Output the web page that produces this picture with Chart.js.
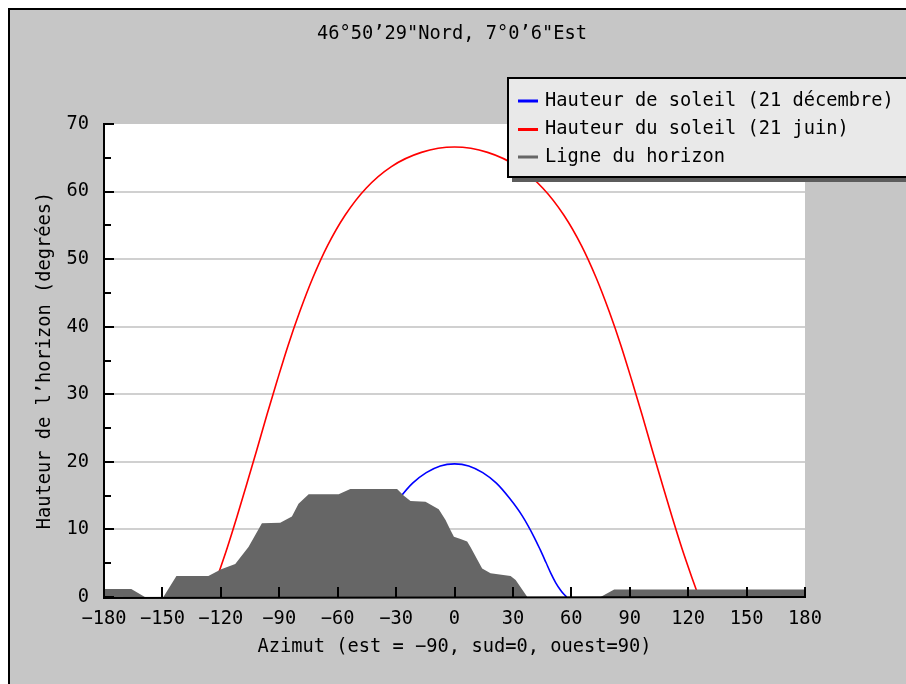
<!DOCTYPE html>
<html><head><meta charset="utf-8">
<script src="https://cdn.jsdelivr.net/npm/chart.js@4/dist/chart.umd.min.js"></script>
<style>html,body{margin:0;padding:0;background:#fff;}canvas{display:block;}</style>
</head><body>
<canvas id="c" width="906" height="684"></canvas>
<script>
const chartTitle = '46°50’29"Nord, 7°0’6"Est';
const xAxisTitle = 'Azimut (est = −90, sud=0, ouest=90)';
const yAxisTitle = 'Hauteur de l’horizon (degrées)';
const seriesNames = ['Hauteur de soleil (21 décembre)', 'Hauteur du soleil (21 juin)', 'Ligne du horizon'];
const seriesColors = ['#0000ff', '#ff0000', '#666666'];

const decAzimuth = [-57.6,-56.2,-54.5,-52,-49.5,-47,-44,-41,-34.8,-28.3,-21.5,-14.5,-7.3,0,7.3,14.5,21.5,28.3,34.8,41,44,47,49.5,52,54.5,56.2,57.6];
const decHeight  = [0,0.4,1.0,2.1,3.5,5.1,7.0,8.8,12.0,14.6,16.85,18.4,19.4,19.7,19.4,18.4,16.85,14.6,12.0,8.8,7.0,5.1,3.5,2.1,1.0,0.4,0];

const junAzimuth = [-125.5,-121.9,-116.7,-111.6,-106.5,-101.5,-96.4,-91.1,-85.5,-79.5,-72.8,-65.2,-56.2,-45.4,-32.4,-17,0,17,32.4,45.4,56.2,65.2,72.8,79.5,85.5,91.1,96.4,101.5,106.5,111.6,116.7,121.9,125.5];
const junHeight  = [0,2.9,7.3,12.0,16.9,21.8,26.9,32.0,37.2,42.2,47.2,52.0,56.5,60.5,63.7,65.8,66.6,65.8,63.7,60.5,56.5,52.0,47.2,42.2,37.2,32.0,26.9,21.8,16.9,12.0,7.3,2.9,0];

const horizonAzimuth = [-180,-166,-159,-149.5,-142.8,-126.4,-119.8,-112.6,-105.8,-98.9,-89.5,-83.5,-80.1,-74.9,-59.5,-53.5,-29.5,-26,-22.6,-14.9,-8.1,-4.6,-2.1,-0.3,3.1,6.5,8.2,14.2,18.5,28.8,31.4,37.4,75,82,180];
const horizonHeight  = [1.2,1.2,0,0,3.1,3.1,4.1,4.9,7.4,10.9,11.0,11.9,13.8,15.2,15.2,16.0,16.0,15.0,14.2,14.1,13.0,11.4,9.9,8.9,8.6,8.2,7.4,4.2,3.5,3.1,2.5,0,0,1.1,1.1];

const xTickMin = -180, xTickMax = 180, xTickStep = 30;
const yTickMin = 0, yTickMax = 70, yTickStep = 10, yMinorStep = 5;

const FONT = '"DejaVu Sans Mono", monospace';
const FS = 18.7;
const toPoints = (xs, ys) => xs.map((x, i) => ({x: x, y: ys[i]}));
const fmt = v => String(v).replace('-', '−');

const framePlugin = {
  id: 'frame',
  beforeDraw(chart) {
    const {ctx, width, height, chartArea: a} = chart;
    ctx.save();
    ctx.fillStyle = '#ffffff'; ctx.fillRect(0, 0, width, height);
    ctx.fillStyle = '#c6c6c6'; ctx.fillRect(9, 9, width - 9, height - 9);
    ctx.fillStyle = '#000000';
    ctx.fillRect(8, 8, width - 8, 2);
    ctx.fillRect(8, 8, 2, height - 8);
    ctx.fillStyle = '#ffffff';
    ctx.fillRect(a.left, a.top, a.right - a.left, a.bottom - a.top);
    ctx.restore();
  },
  afterDatasetsDraw(chart) {
    const {ctx, chartArea: a, scales} = chart;
    ctx.save();
    ctx.strokeStyle = '#000'; ctx.lineWidth = 2;
    ctx.beginPath();
    scales.x.ticks.forEach(t => {
      const px = Math.round(scales.x.getPixelForValue(t.value));
      ctx.moveTo(px, a.bottom); ctx.lineTo(px, a.bottom - 10);
    });
    scales.y.ticks.forEach(t => {
      const py = Math.round(scales.y.getPixelForValue(t.value));
      const len = (t.value % yTickStep === 0) ? 10 : 7;
      ctx.moveTo(a.left, py); ctx.lineTo(a.left + len, py);
    });
    ctx.stroke();
    ctx.beginPath();
    ctx.moveTo(a.left, a.top - 1); ctx.lineTo(a.left, a.bottom + 1); ctx.lineTo(a.right + 1, a.bottom);
    ctx.stroke();
    ctx.restore();
  },
  afterDraw(chart) {
    const {ctx} = chart;
    ctx.save();
    ctx.font = FS + 'px ' + FONT;
    ctx.fillStyle = '#000';
    ctx.textAlign = 'center'; ctx.textBaseline = 'middle';
    ctx.fillText(chartTitle, 452, 34);
    const lx = 508, ly = 78, lw = 420, lh = 99;
    ctx.fillStyle = '#5c5c5c'; ctx.fillRect(lx + 4, ly + 4, lw, lh + 1);
    ctx.fillStyle = '#e9e9e9'; ctx.fillRect(lx, ly, lw, lh);
    ctx.strokeStyle = '#000'; ctx.lineWidth = 2; ctx.strokeRect(lx, ly, lw, lh);
    const rows = [101, 129.5, 157];
    ctx.textAlign = 'left';
    seriesNames.forEach((name, i) => {
      ctx.fillStyle = seriesColors[i];
      ctx.fillRect(518, rows[i] - 1.5, 20, 3);
      ctx.fillStyle = '#000';
      ctx.fillText(name, 545, rows[i]);
    });
    ctx.restore();
  }
};

new Chart(document.getElementById('c'), {
  type: 'line',
  data: {
    datasets: [
      {label: seriesNames[0], data: toPoints(decAzimuth, decHeight), borderColor: seriesColors[0], borderWidth: 1.6, pointRadius: 0, fill: false, cubicInterpolationMode: 'monotone', order: 1},
      {label: seriesNames[1], data: toPoints(junAzimuth, junHeight), borderColor: seriesColors[1], borderWidth: 1.6, pointRadius: 0, fill: false, cubicInterpolationMode: 'monotone', order: 2},
      {label: seriesNames[2], data: toPoints(horizonAzimuth, horizonHeight), borderColor: seriesColors[2], backgroundColor: seriesColors[2], borderWidth: 0, pointRadius: 0, fill: 'origin', tension: 0, order: 0}
    ]
  },
  options: {
    responsive: false,
    animation: false,
    devicePixelRatio: 1,
    layout: {padding: {top: 124, right: 101, bottom: 0, left: 0}},
    plugins: {legend: {display: false}, title: {display: false}, tooltip: {enabled: false}},
    scales: {
      x: {
        type: 'linear', min: xTickMin, max: xTickMax,
        afterFit: s => { s.height = 87; },
        border: {display: false},
        grid: {display: false, drawTicks: false},
        ticks: {stepSize: xTickStep, autoSkip: false, maxRotation: 0, padding: 11, color: '#000', font: {family: FONT, size: FS}, callback: v => fmt(v)},
        title: {display: true, text: xAxisTitle, color: '#000', font: {family: FONT, size: FS}, padding: {top: 0, bottom: 26}}
      },
      y: {
        type: 'linear', min: yTickMin, max: yTickMax,
        afterFit: s => { s.width = 104; },
        border: {display: false},
        grid: {drawTicks: false, lineWidth: 2, color: c => (c.tick && c.tick.value % yTickStep === 0 && c.tick.value > yTickMin && c.tick.value < yTickMax) ? '#d0d0d0' : 'rgba(0,0,0,0)'},
        ticks: {stepSize: yMinorStep, autoSkip: false, padding: 15, color: '#000', font: {family: FONT, size: FS}, callback: v => (v % yTickStep === 0 ? fmt(v) : '')},
        title: {display: true, text: yAxisTitle, color: '#000', font: {family: FONT, size: FS}, padding: {top: 33.8, bottom: 0}}
      }
    }
  },
  plugins: [framePlugin]
});
</script>
</body></html>
